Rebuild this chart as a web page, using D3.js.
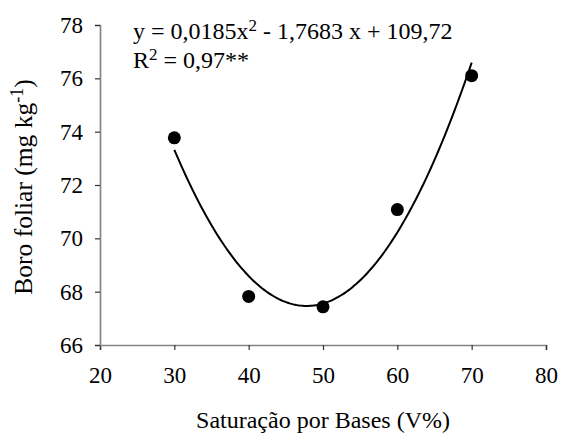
<!DOCTYPE html>
<html>
<head>
<meta charset="utf-8">
<script src="https://cdn.jsdelivr.net/npm/d3@7"></script>
<style>
  body { margin: 0; background: #fff; }
</style>
</head>
<body>
<div id="chart"></div>
<script>
// observed points
const saturation = [30, 40, 50, 60, 70];
const boron = [73.77, 67.82, 67.43, 71.08, 76.1];

// fitted quadratic, y = a x^2 + b x + c (as printed on the chart)
const coefs = [0.0185, -1.7683, 109.72];
const fitRange = [30, 70];

const xTicks = [20, 30, 40, 50, 60, 70, 80];
const yTicks = [66, 68, 70, 72, 74, 76, 78];

const FONT = "'Liberation Serif', 'Times New Roman', Times, serif";

const W = 561, H = 434;
const margin = { top: 25, right: 15, bottom: 89, left: 100 };
const width = W - margin.left - margin.right,
      height = H - margin.top - margin.bottom;

const svg = d3.select("#chart").append("svg")
    .attr("width", W)
    .attr("height", H)
    .attr("font-family", FONT);

const g = svg.append("g")
    .attr("transform", `translate(${margin.left}, ${margin.top})`);

const x = d3.scaleLinear().domain([20, 80]).range([0, width]);
const y = d3.scaleLinear().domain([66, 78]).range([height, 0]);

// x-axis
const xAxis = g.append("g")
    .attr("transform", `translate(0, ${height})`)
    .call(d3.axisBottom(x).tickValues(xTicks).tickSize(5).tickPadding(17));

// y-axis
const yAxis = g.append("g")
    .call(d3.axisLeft(y).tickValues(yTicks).tickSize(5).tickPadding(12));

[xAxis, yAxis].forEach(a => {
    a.attr("font-family", FONT).attr("font-size", 23);
    a.select(".domain").attr("stroke", "#858585").attr("stroke-width", 1.7);
    a.selectAll(".tick line").attr("stroke", "#333").attr("stroke-width", 1.2);
    a.selectAll(".tick text").attr("fill", "#000");
});

// trend line
const fit = v => coefs[0] * v * v + coefs[1] * v + coefs[2];
const fitX = d3.range(fitRange[0], fitRange[1], 0.25).concat([fitRange[1]]);
const line = d3.line()
    .x(d => x(d))
    .y(d => y(fit(d)))
    .curve(d3.curveMonotoneX);

g.append("path")
    .datum(fitX)
    .attr("fill", "none")
    .attr("stroke", "#000")
    .attr("stroke-width", 2)
    .attr("d", line);

// points
g.selectAll("circle.pt")
    .data(saturation)
    .enter().append("circle")
    .attr("class", "pt")
    .attr("cx", d => x(d))
    .attr("cy", (d, i) => y(boron[i]))
    .attr("r", 6.5)
    .attr("fill", "#000");

// equation
const eq = svg.append("text")
    .attr("x", 133)
    .attr("y", 39)
    .attr("font-size", 24);
eq.append("tspan").text("y = 0,0185x");
eq.append("tspan").attr("dy", -8).attr("font-size", 17).text("2");
eq.append("tspan").attr("dy", 8).text(" - 1,7683 x + 109,72");

const r2 = svg.append("text")
    .attr("x", 133)
    .attr("y", 68)
    .attr("font-size", 24);
r2.append("tspan").text("R");
r2.append("tspan").attr("dy", -8).attr("font-size", 17).text("2");
r2.append("tspan").attr("dy", 8).text(" = 0,97**");

// axis titles
svg.append("text")
    .attr("x", margin.left + width / 2)
    .attr("y", 428)
    .attr("text-anchor", "middle")
    .attr("font-size", 24)
    .text("Saturação por Bases (V%)");

const yt = svg.append("text")
    .attr("transform", "translate(32, 187) rotate(-90)")
    .attr("text-anchor", "middle")
    .attr("font-size", 25.5);
yt.append("tspan").text("Boro foliar (mg kg");
yt.append("tspan").attr("dy", -9).attr("font-size", 18).text("-1");
yt.append("tspan").attr("dy", 9).text(")");
</script>
</body>
</html>
